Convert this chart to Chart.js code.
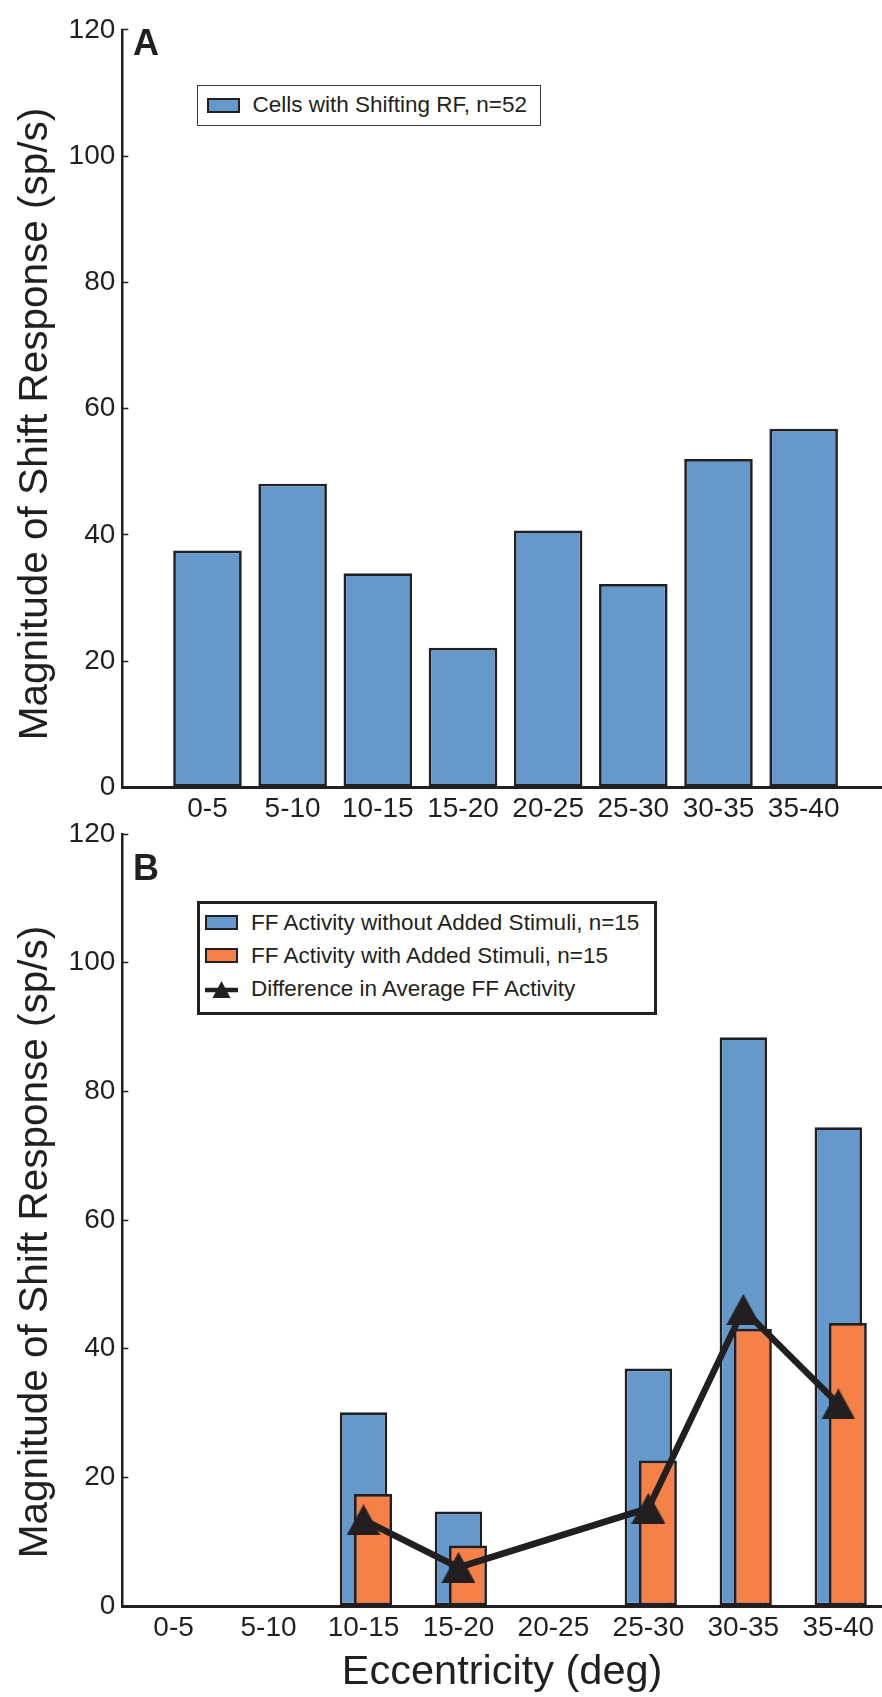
<!DOCTYPE html>
<html>
<head>
<meta charset="utf-8">
<title>Shift response by eccentricity</title>
<script src="https://cdn.jsdelivr.net/npm/chart.js@4.4.1/dist/chart.umd.min.js"></script>
<style>
  html, body { margin: 0; padding: 0; background: #fff; }
  body {
    width: 882px; height: 1697px; position: relative; overflow: hidden;
    font-family: 'Liberation Sans', Arial, Helvetica, sans-serif; color: #231f20;
  }
  canvas { position: absolute; left: 0; }
  #chartA { top: 0; }
  #chartB { top: 790px; }
  .ytitle {
    position: absolute; left: 33px; font-size: 40.5px; line-height: 1; white-space: nowrap;
    transform: translate(-50%, -50%) rotate(-90deg);
  }
  .letter { position: absolute; left: 133px; font-weight: bold; font-size: 36px; line-height: 1; }
  .legend { position: absolute; background: #fff; box-sizing: border-box; font-size: 22.5px; }
  .legend .row { display: flex; align-items: center; height: 33px; white-space: nowrap; }
  .swatch { width: 33px; height: 15px; box-sizing: border-box; border: 2px solid #231f20; margin-right: 13px; flex: none; }
  .key { width: 33px; height: 20px; margin-right: 13px; flex: none; }
  #legendA { left: 197px; top: 85px; width: 344px; height: 41px; border: 1.5px solid #3a3a3a; padding-left: 8.5px; }
  #legendA .row { height: 38px; }
  #legendB { left: 197px; top: 901px; width: 460px; height: 114px; border: 3px solid #231f20; padding: 2px 0 0 5px; }
</style>
</head>
<body>
<canvas id="chartA" width="882" height="840"></canvas>
<canvas id="chartB" width="882" height="907"></canvas>

<div class="ytitle" style="top:424px">Magnitude of Shift Response (sp/s)</div>
<div class="ytitle" style="top:1242px">Magnitude of Shift Response (sp/s)</div>
<div class="letter" style="top:25px">A</div>
<div class="letter" style="top:850px">B</div>
<div class="legend" id="legendA"></div>
<div class="legend" id="legendB"></div>

<script>
// eccentricity bins (deg)
const categories = ['0-5', '5-10', '10-15', '15-20', '20-25', '25-30', '30-35', '35-40'];
const yTickValues = [0, 20, 40, 60, 80, 100, 120];

// panel A: all cells with a shifting RF
const cellsShiftingRF = [37.5, 48.1, 33.9, 22.1, 40.7, 32.2, 52.0, 56.8];

// panel B: future-field activity, empty bins are null
const ffWithout = [null, null, 30.1, 14.7, null, 36.9, 88.4, 74.4];
const ffWith = [null, null, 17.4, 9.4, null, 22.6, 43.1, 44.0];
const ffDifference = [null, null, 13.4, 6.0, null, 15.2, 46.1, 31.4];

const INK = '#231f20';
const BLUE = '#6699cb';
const ORANGE = '#f58148';

Chart.defaults.font.family = "'Liberation Sans', Arial, Helvetica, sans-serif";
Chart.defaults.color = INK;
Chart.defaults.animation = false;

const asPoints = arr => arr.map((y, i) => ({ x: i, y }));
const binTicks = axis => { axis.ticks = categories.map((_, i) => ({ value: i })); };

function yAxis() {
    return {
        min: 0,
        max: 120,
        afterBuildTicks: axis => { axis.ticks = yTickValues.map(v => ({ value: v })); },
        afterFit: axis => { axis.width = 122.3; },
        border: { display: true, color: INK, width: 2.5 },
        grid: { drawOnChartArea: false, drawTicks: true, tickLength: -6, color: INK, tickColor: INK, tickWidth: 1.5 },
        ticks: { font: { size: 28 }, padding: 13, color: INK }
    };
}

function xAxis(min, max, height, title) {
    return {
        type: 'linear',
        min, max,
        offset: false,
        afterBuildTicks: binTicks,
        afterFit: axis => {
            axis.height = height;
            axis.paddingLeft = 0;
            axis.paddingRight = 0;
        },
        border: { display: true, color: INK, width: 3 },
        grid: { display: false, offset: false, drawTicks: false },
        ticks: {
            font: { size: 28 }, padding: 5, color: INK, maxRotation: 0, autoSkip: false,
            callback: v => categories[v] ?? ''
        },
        title: title ? { display: true, text: title, font: { size: 41.5 }, color: INK, padding: { top: 0, bottom: 0 } } : { display: false }
    };
}

// triangle marker, centred on its bounding box
function makeTriangle(w, h, color) {
    const c = document.createElement('canvas');
    c.width = w;
    c.height = h;
    const g = c.getContext('2d');
    g.fillStyle = color;
    g.beginPath();
    g.moveTo(w / 2, 0);
    g.lineTo(w, h);
    g.lineTo(0, h);
    g.closePath();
    g.fill();
    return c;
}

const commonPlugins = { legend: { display: false }, tooltip: { enabled: false } };

// ---- panel A ----
const dsA = {
    label: 'Cells with Shifting RF, n=52',
    data: asPoints(cellsShiftingRF),
    backgroundColor: BLUE,
    borderColor: INK,
    borderWidth: 2.7,
    borderSkipped: false,
    grouped: false,
    categoryPercentage: 1,
    barPercentage: 0.805
};

new Chart(document.getElementById('chartA'), {
    type: 'bar',
    data: { datasets: [dsA] },
    options: {
        responsive: false,
        layout: { autoPadding: false, padding: { top: 20, right: 0, bottom: 0, left: 0 } },
        plugins: commonPlugins,
        scales: {
            x: xAxis(-1, 7.92, 52.7),
            y: yAxis()
        }
    }
});

// ---- panel B ----
// orange bars sit on a hidden axis nudged by a tenth of a bin
const xMinB = -0.54, xMaxB = 7.46, shift = 0.1;

const dsDiff = {
    type: 'line',
    label: 'Difference in Average FF Activity',
    data: asPoints(ffDifference),
    xAxisID: 'x',
    borderColor: INK,
    borderWidth: 6.5,
    pointStyle: makeTriangle(34, 31, INK),
    pointRadius: 17,
    spanGaps: true,
    tension: 0,
    order: 1
};
const dsWith = {
    type: 'bar',
    label: 'FF Activity with Added Stimuli, n=15',
    data: asPoints(ffWith),
    xAxisID: 'xShift',
    backgroundColor: ORANGE,
    borderColor: INK,
    borderWidth: 2.7,
    borderSkipped: false,
    grouped: false,
    categoryPercentage: 1,
    barPercentage: 0.4,
    order: 2
};
const dsWithout = {
    type: 'bar',
    label: 'FF Activity without Added Stimuli, n=15',
    data: asPoints(ffWithout),
    xAxisID: 'x',
    backgroundColor: BLUE,
    borderColor: INK,
    borderWidth: 2.7,
    borderSkipped: false,
    grouped: false,
    categoryPercentage: 1,
    barPercentage: 0.5,
    order: 3
};

new Chart(document.getElementById('chartB'), {
    type: 'bar',
    data: { datasets: [dsWithout, dsWith, dsDiff] },
    options: {
        responsive: false,
        layout: { autoPadding: false, padding: { top: 44, right: 0, bottom: 0, left: 0 } },
        plugins: commonPlugins,
        scales: {
            x: xAxis(xMinB, xMaxB, 91, 'Eccentricity (deg)'),
            xShift: {
                type: 'linear',
                display: false,
                min: xMinB - shift,
                max: xMaxB - shift,
                offset: false,
                afterBuildTicks: binTicks
            },
            y: yAxis()
        }
    }
});

// ---- legends ----
const triangleKey = `
  <svg class="key" viewBox="0 0 33 20">
    <line x1="0" y1="11" x2="33" y2="11" stroke="${INK}" stroke-width="4.5"/>
    <polygon points="16.5,2 25.5,19 7.5,19" fill="${INK}"/>
  </svg>`;

function renderLegend(el, datasets) {
    el.innerHTML = datasets.map(ds => `
    <div class="row">
      ${ds.type === 'line' ? triangleKey : `<div class="swatch" style="background:${ds.backgroundColor}"></div>`}
      <span>${ds.label}</span>
    </div>`).join('');
}

renderLegend(document.getElementById('legendA'), [dsA]);
renderLegend(document.getElementById('legendB'), [dsWithout, dsWith, dsDiff]);
</script>
</body>
</html>
